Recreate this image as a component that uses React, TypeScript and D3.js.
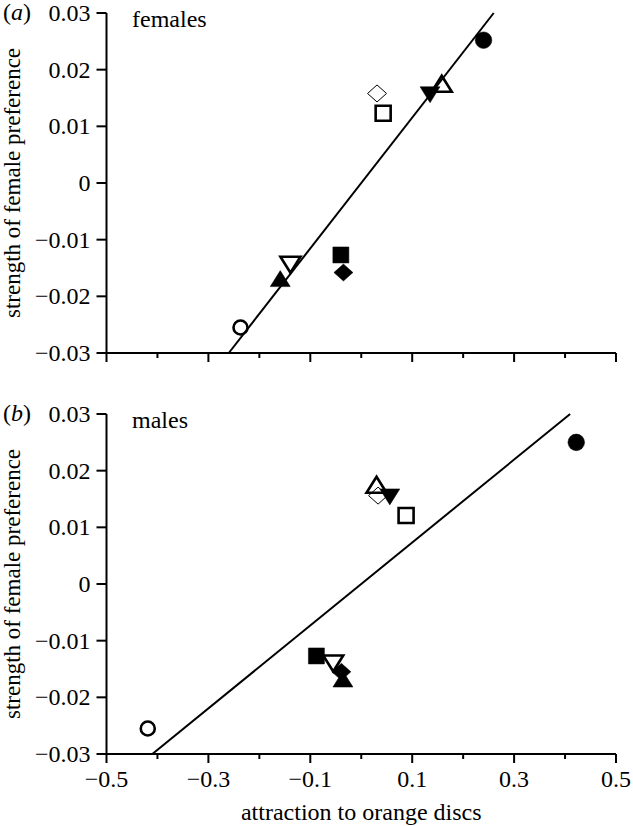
import React, { useEffect, useRef } from "react";
import * as d3 from "d3";

// marker style for each of the ten populations, same order in both panels
const markers = [
  "filledCircle",
  "openTriangleUp",
  "filledTriangleDown",
  "openDiamond",
  "openSquare",
  "filledSquare",
  "filledDiamond",
  "openTriangleDown",
  "filledTriangleUp",
  "openCircle",
];

// (a) females
const femalesX = [0.24, 0.158, 0.135, 0.031, 0.043, -0.04, -0.035, -0.139, -0.159, -0.237];
const femalesY = [0.0252, 0.0173, 0.0158, 0.0158, 0.0123, -0.0127, -0.0158, -0.0142, -0.0171, -0.0255];
const femalesFitX = [-0.26, 0.26];
const femalesFitY = [-0.03, 0.03];

// (b) males
const malesX = [0.422, 0.03, 0.056, 0.033, 0.088, -0.088, -0.039, -0.055, -0.036, -0.419];
const malesY = [0.025, 0.0173, 0.0156, 0.0156, 0.0121, -0.0127, -0.0155, -0.0138, -0.017, -0.0255];
const malesFitX = [-0.41, 0.41];
const malesFitY = [-0.03, 0.03];

const yTicks = [-0.03, -0.02, -0.01, 0, 0.01, 0.02, 0.03];
const xMajorTicks = [-0.5, -0.3, -0.1, 0.1, 0.3, 0.5];
const xMinorTicks = [-0.4, -0.2, 0, 0.2, 0.4];

const panels = [
  { letter: "a", title: "females", xs: femalesX, ys: femalesY, fitX: femalesFitX, fitY: femalesFitY, top: 13, bottom: 353, showXLabels: false },
  { letter: "b", title: "males", xs: malesX, ys: malesY, fitX: malesFitX, fitY: malesFitY, top: 414, bottom: 754, showXLabels: true },
];

const FONT = "'Liberation Serif', 'Times New Roman', serif";

const markerPath = (kind: string, cx: number, cy: number): string => {
  const p = d3.path();
  if (kind.includes("Circle")) {
    p.arc(cx, cy, kind.startsWith("open") ? 7 : 8.3, 0, 2 * Math.PI);
  } else if (kind.includes("Square")) {
    const h = kind.startsWith("open") ? 7.5 : 8;
    p.rect(cx - h, cy - h, 2 * h, 2 * h);
  } else if (kind.includes("Diamond")) {
    const w = 9.5, h = 8.5;
    p.moveTo(cx, cy - h); p.lineTo(cx + w, cy); p.lineTo(cx, cy + h); p.lineTo(cx - w, cy);
  } else if (kind.includes("TriangleUp")) {
    const w = 10, h = 16;
    p.moveTo(cx, cy - h * 0.58); p.lineTo(cx + w, cy + h * 0.42); p.lineTo(cx - w, cy + h * 0.42);
  } else {
    const w = 10, h = 16;
    p.moveTo(cx, cy + h * 0.58); p.lineTo(cx + w, cy - h * 0.42); p.lineTo(cx - w, cy - h * 0.42);
  }
  p.closePath();
  return p.toString();
};

const App = () => {
  const ref = useRef<SVGSVGElement>(null);

  useEffect(() => {
    const svg = d3.select(ref.current);
    svg.selectAll("*").remove();

    const left = 106.5;
    const right = 616;
    const xScale = d3.scaleLinear().domain([-0.5, 0.5]).range([left, right]);

    panels.forEach((panel) => {
      const yScale = d3.scaleLinear().domain([-0.03, 0.03]).range([panel.bottom, panel.top]);
      const g = svg.append("g");

      // regression line
      g.append("line")
        .attr("x1", xScale(panel.fitX[0]))
        .attr("y1", yScale(panel.fitY[0]))
        .attr("x2", xScale(panel.fitX[1]))
        .attr("y2", yScale(panel.fitY[1]))
        .attr("stroke", "#000")
        .attr("stroke-width", 2);

      // points
      g.selectAll("path.pt")
        .data(panel.xs.map((x, i) => ({ x, y: panel.ys[i], kind: markers[i] })))
        .enter()
        .append("path")
        .attr("class", "pt")
        .attr("d", (d) => markerPath(d.kind, xScale(d.x), yScale(d.y)))
        .attr("fill", (d) => (d.kind.startsWith("filled") ? "#000" : "none"))
        .attr("stroke", "#000")
        .attr("stroke-width", (d) => (d.kind === "openDiamond" ? 1 : d.kind.startsWith("open") ? 2.6 : 0.5));

      // y axis
      g.append("line")
        .attr("x1", left).attr("x2", left)
        .attr("y1", yScale(0.03)).attr("y2", yScale(-0.03))
        .attr("stroke", "#000").attr("stroke-width", 2);
      g.selectAll("line.ytick")
        .data(yTicks).enter()
        .append("line")
        .attr("class", "ytick")
        .attr("x1", left - 10).attr("x2", left)
        .attr("y1", (d) => yScale(d)).attr("y2", (d) => yScale(d))
        .attr("stroke", "#000").attr("stroke-width", 2);
      g.selectAll("text.ylab")
        .data(yTicks).enter()
        .append("text")
        .attr("class", "ylab")
        .attr("x", left - 16)
        .attr("y", (d) => yScale(d))
        .attr("dy", "0.33em")
        .attr("text-anchor", "end")
        .attr("font-family", FONT)
        .attr("font-size", 24)
        .text((d) => (d === 0 ? "0" : d3.format(".2f")(d)));

      // x axis
      g.append("line")
        .attr("x1", left).attr("x2", right)
        .attr("y1", panel.bottom).attr("y2", panel.bottom)
        .attr("stroke", "#000").attr("stroke-width", 2);
      g.selectAll("line.xmaj")
        .data(xMajorTicks).enter()
        .append("line")
        .attr("class", "xmaj")
        .attr("x1", (d) => xScale(d)).attr("x2", (d) => xScale(d))
        .attr("y1", panel.bottom).attr("y2", panel.bottom + 9)
        .attr("stroke", "#000").attr("stroke-width", 2);
      g.selectAll("line.xmin")
        .data(xMinorTicks).enter()
        .append("line")
        .attr("class", "xmin")
        .attr("x1", (d) => xScale(d)).attr("x2", (d) => xScale(d))
        .attr("y1", panel.bottom).attr("y2", panel.bottom + 5)
        .attr("stroke", "#000").attr("stroke-width", 2);

      if (panel.showXLabels) {
        g.selectAll("text.xlab")
          .data(xMajorTicks).enter()
          .append("text")
          .attr("class", "xlab")
          .attr("x", (d) => xScale(d))
          .attr("y", panel.bottom + 33)
          .attr("text-anchor", "middle")
          .attr("font-family", FONT)
          .attr("font-size", 24)
          .text((d) => d3.format(".1f")(d));
        g.append("text")
          .attr("x", (left + right) / 2)
          .attr("y", panel.bottom + 66)
          .attr("text-anchor", "middle")
          .attr("font-family", FONT)
          .attr("font-size", 24)
          .text("attraction to orange discs");
      }

      // panel letter and title
      const letter = g.append("text")
        .attr("x", 3)
        .attr("y", panel.top + 7)
        .attr("font-family", FONT)
        .attr("font-size", 24);
      letter.append("tspan").text("(");
      letter.append("tspan").attr("font-style", "italic").text(panel.letter);
      letter.append("tspan").text(")");

      g.append("text")
        .attr("x", 132)
        .attr("y", panel.top + 14)
        .attr("font-family", FONT)
        .attr("font-size", 24)
        .text(panel.title);

      // y axis title
      g.append("text")
        .attr("transform", `translate(20, ${(panel.top + panel.bottom) / 2}) rotate(-90)`)
        .attr("text-anchor", "middle")
        .attr("font-family", FONT)
        .attr("font-size", 23)
        .text("strength of female preference");
    });
  }, []);

  return (
    <svg
      ref={ref}
      width={633}
      height={826}
      style={{ position: "absolute", left: 0, top: 0, background: "#fff" }}
    />
  );
};

export default App;
